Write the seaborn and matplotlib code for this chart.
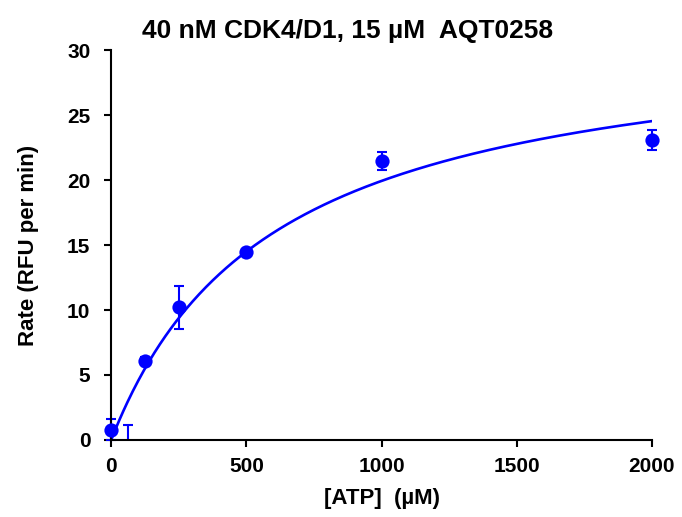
import numpy as np
import pandas as pd
import matplotlib
matplotlib.use("Agg")
import matplotlib.pyplot as plt
import seaborn as sns

# ATP titration data (mean rate and error)
atp = [0, 62.5, 125, 250, 500, 1000, 2000]
rate = [0.8, -0.3, 6.1, 10.2, 14.5, 21.45, 23.1]
err = [0.8, 1.45, 0.3, 1.65, 0.2, 0.7, 0.77]

# Michaelis-Menten fit parameters
vmax = 31.9
km = 600.0

sns.set_style("ticks")
plt.rcParams["font.family"] = ["Liberation Sans", "DejaVu Sans"]
plt.rcParams["font.weight"] = "bold"
plt.rcParams["text.color"] = "black"
plt.rcParams["axes.labelcolor"] = "black"
plt.rcParams["xtick.color"] = "black"
plt.rcParams["ytick.color"] = "black"

df = pd.DataFrame({"ATP": atp, "Rate": rate, "Err": err})
fit_x = np.linspace(0, 2000, 400)
fit = pd.DataFrame({"ATP": fit_x, "Rate": vmax * fit_x / (km + fit_x)})

fig = plt.figure(figsize=(6.82, 5.17), dpi=100)
ax = fig.add_axes([0.163, 0.149, 0.793, 0.754])

blue = "#0000ff"

sns.lineplot(data=fit, x="ATP", y="Rate", color=blue, linewidth=1.9, ax=ax)

shown = df[df["Rate"] >= 0]
hidden = df[df["Rate"] < 0]

# visible points: not clipped at the axes edge
ax.errorbar(shown["ATP"], shown["Rate"], yerr=shown["Err"], fmt="none",
            ecolor=blue, elinewidth=1.5, capsize=3.5, capthick=1.5)
sns.scatterplot(data=shown, x="ATP", y="Rate", color=blue, s=105,
                edgecolor=blue, linewidth=0, ax=ax, zorder=5)
for c in ax.collections:
    c.set_clip_on(False)
for ln in ax.lines[1:]:
    ln.set_clip_on(False)

# point below zero: clipped by the axes
ax.errorbar(hidden["ATP"], hidden["Rate"], yerr=hidden["Err"], fmt="none",
            ecolor=blue, elinewidth=1.5, capsize=3.5, capthick=1.5)

ax.set_xlim(0, 2000)
ax.set_ylim(0, 30)
ax.set_xticks([0, 500, 1000, 1500, 2000])
ax.set_yticks([0, 5, 10, 15, 20, 25, 30])

for s in ["top", "right"]:
    ax.spines[s].set_visible(False)
for s in ["left", "bottom"]:
    ax.spines[s].set_linewidth(1.5)
    ax.spines[s].set_color("black")
ax.tick_params(direction="out", length=5, width=1.5, labelsize=15)
ax.tick_params(axis="x", pad=7)
ax.tick_params(axis="y", pad=10)
for lab in ax.get_xticklabels() + ax.get_yticklabels():
    lab.set_fontweight("bold")

ax.set_xlabel("[ATP]  (µM)", fontsize=16, fontweight="bold", labelpad=9)
ax.set_ylabel("Rate (RFU per min)", fontsize=16, fontweight="bold", labelpad=20)
ax.set_title("40 nM CDK4/D1, 15 µM  AQT0258", fontsize=19, fontweight="bold",
             x=0.438, pad=9)

fig.savefig("out.png", dpi=100)
